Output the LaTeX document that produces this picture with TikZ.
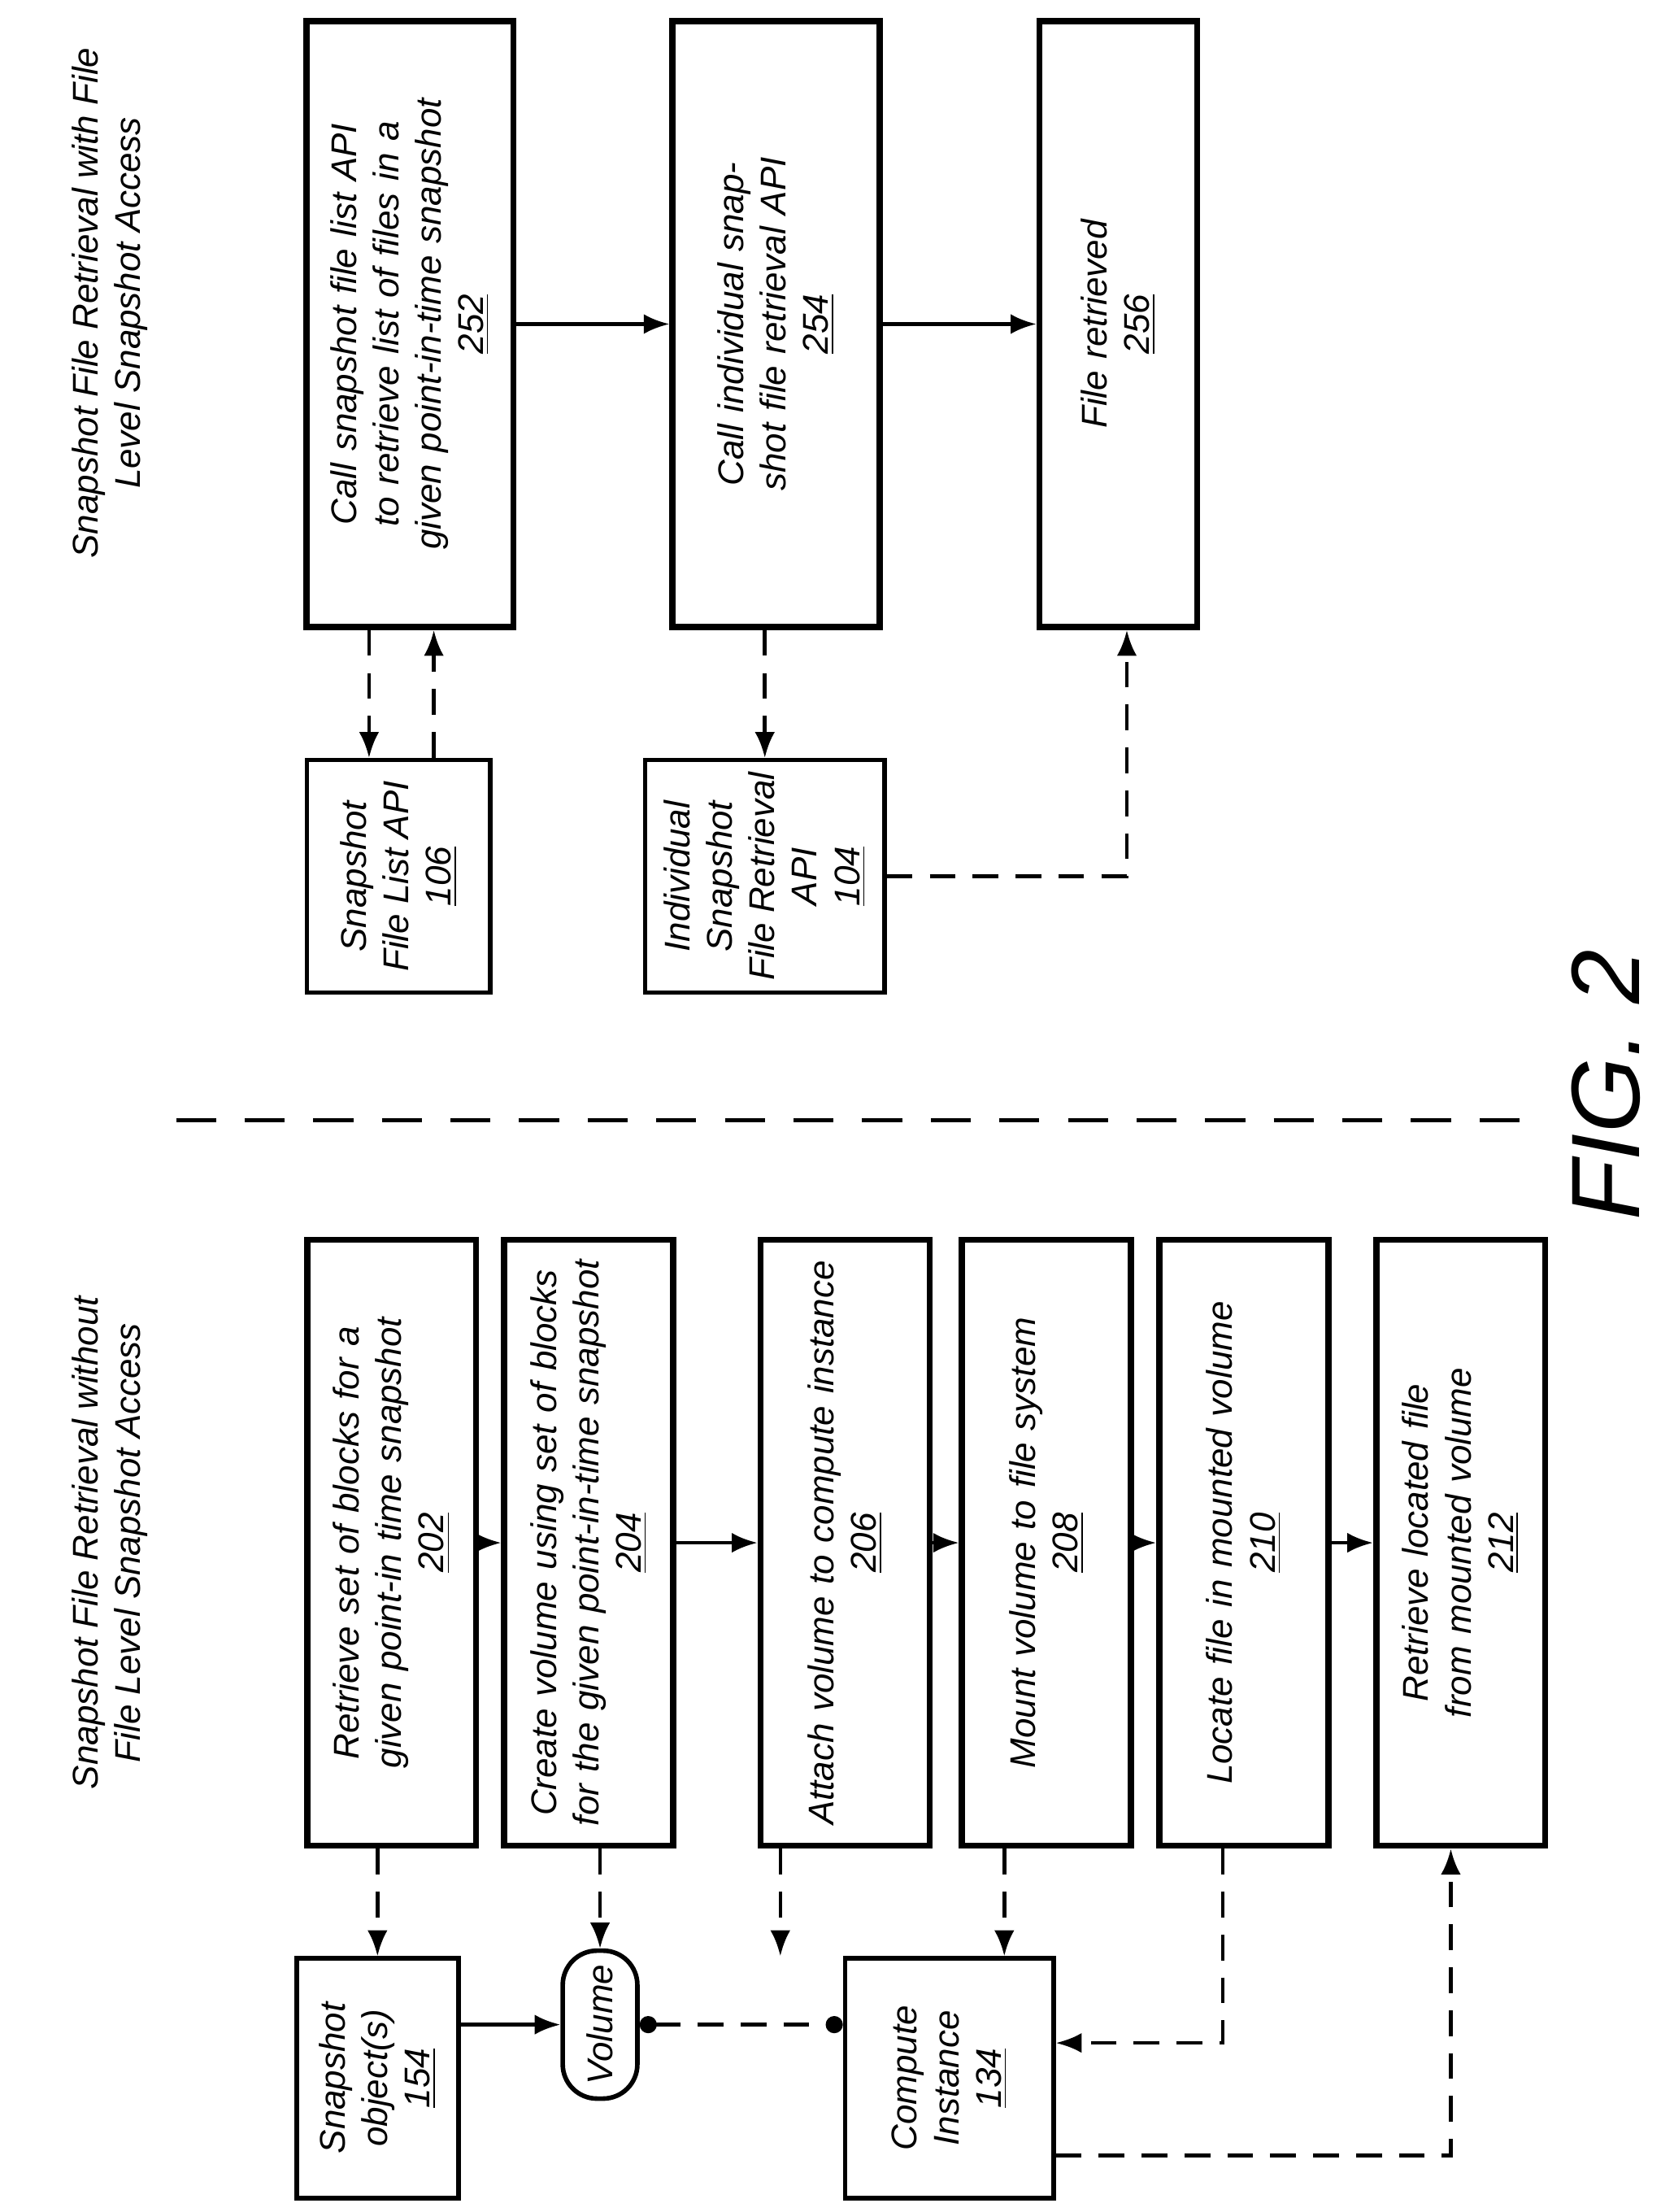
\documentclass[tikz,border=0pt]{standalone}
\usepackage{fontspec}
\setmainfont{Liberation Sans}
\usetikzlibrary{arrows.meta, positioning}
\newdimen\px \px=0.017325cm
\tikzstyle{stage} = [rectangle, draw=black, line width=2.2pt, rotate=90, align=center, font=\itshape\fontsize{12.5}{14.8}\selectfont]
\tikzstyle{unit} = [rectangle, draw=black, line width=1.6pt, rotate=90, align=center, font=\itshape\fontsize{12.5}{14.8}\selectfont]
\tikzstyle{arrow} = [line width=1.3pt, -{Latex[length=9pt,width=7pt]}]
\tikzstyle{dasharrow} = [arrow, dash pattern=on 9pt off 6pt]
\tikzstyle{link} = [line width=1.3pt, dash pattern=on 9pt off 6pt]

\begin{document}
\begin{tikzpicture}[x=0.017325cm, y=-0.017325cm]
\useasboundingbox (0,0) rectangle (1179,1570);

% titles
\node (tleft) [rotate=90, align=center, font=\itshape\fontsize{12.5}{14.8}\selectfont] at (78,1095) {Snapshot File Retrieval without\\File Level Snapshot Access};
\node (tright) [rotate=90, align=center, font=\itshape\fontsize{12.5}{14.8}\selectfont] at (78,215) {Snapshot File Retrieval with File\\Level Snapshot Access};
\node (fig) [rotate=90, font=\itshape\fontsize{34}{40}\selectfont] at (1140,770) {FIG. 2};
\coordinate (sepa) at (125,795);
\coordinate (sepb) at (1080,795);
\draw [line width=1.6pt, dash pattern=on 14pt off 10pt] (sepa) -- (sepb);

% without file level access
\node (s202) [stage, minimum width=430*\px, minimum height=120*\px, text width=410*\px] at (278,1095) {Retrieve set of blocks for a given point-in time snapshot\\\underline{202}};
\node (s204) [stage, minimum width=430*\px, minimum height=120*\px, text width=410*\px] at (418,1095) {Create volume using set of blocks for the given point-in-time snapshot\\\underline{204}};
\node (s206) [stage, minimum width=430*\px, minimum height=120*\px, text width=410*\px] at (600,1095) {Attach volume to compute instance\\\underline{206}};
\node (s208) [stage, minimum width=430*\px, minimum height=120*\px, text width=410*\px] at (743,1095) {Mount volume to file system\\\underline{208}};
\node (s210) [stage, minimum width=430*\px, minimum height=120*\px, text width=410*\px] at (883,1095) {Locate file in mounted volume\\\underline{210}};
\node (s212) [stage, minimum width=430*\px, minimum height=120*\px, text width=410*\px] at (1037,1095) {Retrieve located file from mounted volume\\\underline{212}};

\node (obj) [unit, minimum width=170*\px, minimum height=115*\px] at (268,1475) {Snapshot\\object(s)\\\underline{154}};
\node (vol) [unit, rounded corners=12pt, minimum width=105*\px, minimum height=53*\px] at (426,1437) {Volume};
\node (comp) [unit, minimum width=170*\px, minimum height=148*\px] at (674,1475) {Compute\\Instance\\\underline{134}};
\coordinate (c210) at (868,1450);
\coordinate (c212) at (1030,1530);

\draw [arrow] (s202) -- (s204);
\draw [arrow] (s204) -- (s206);
\draw [arrow] (s206) -- (s208);
\draw [arrow] (s208) -- (s210);
\draw [arrow] (s210) -- (s212);
\draw [arrow] (obj.south |- vol) -- (vol);
\draw [link, {Circle[length=6pt]}-{Circle[length=6pt]}] (vol.south) -- (comp.north |- vol.south);
\draw [dasharrow] (s202.west -| obj) -- (obj.east);
\draw [dasharrow] (s204.west -| vol) -- (vol.east);
\draw [dasharrow] ([xshift=-46*\px]s206.west) -- ([xshift=-46*\px]s206.west |- comp.east);
\draw [dasharrow] ([xshift=-30*\px]s208.west) -- ([xshift=-30*\px]s208.west |- comp.east);
\draw [dasharrow] (s210.west -| c210) -- (c210) -- (comp.south |- c210);
\draw [dasharrow] (comp.south |- c212) -- (c212) -- (s212.west -| c212);

% with file level access
\node (s252) [stage, minimum width=430*\px, minimum height=147*\px, text width=410*\px] at (291,230) {Call snapshot file list API to retrieve list of files in a given point-in-time snapshot\\\underline{252}};
\node (s254) [stage, minimum width=430*\px, minimum height=147*\px, text width=410*\px] at (551,230) {Call individual snapshot file retrieval API\\\underline{254}};
\node (s256) [stage, minimum width=430*\px, minimum height=112*\px, text width=410*\px] at (794,230) {File retrieved\\\underline{256}};

\node (list) [unit, minimum width=165*\px, minimum height=130*\px] at (283,622) {Snapshot\\File List API\\\underline{106}};
\node (single) [unit, minimum width=165*\px, minimum height=170*\px] at (543,622) {Individual\\Snapshot\\File Retrieval\\API\\\underline{104}};
\coordinate (c256) at (800,622);

\draw [arrow] (s252) -- (s254);
\draw [arrow] (s254) -- (s256);
\draw [dasharrow] ([xshift=-29*\px]s252.west) -- ([xshift=-29*\px]s252.west |- list.east);
\draw [dasharrow] ([xshift=17*\px]s252.west |- list.east) -- ([xshift=17*\px]s252.west);
\draw [dasharrow] (s254.west -| single) -- (single.east);
\draw [dasharrow] (single.south) -- (c256) -- (s256.west -| c256);

\end{tikzpicture}
\end{document}
